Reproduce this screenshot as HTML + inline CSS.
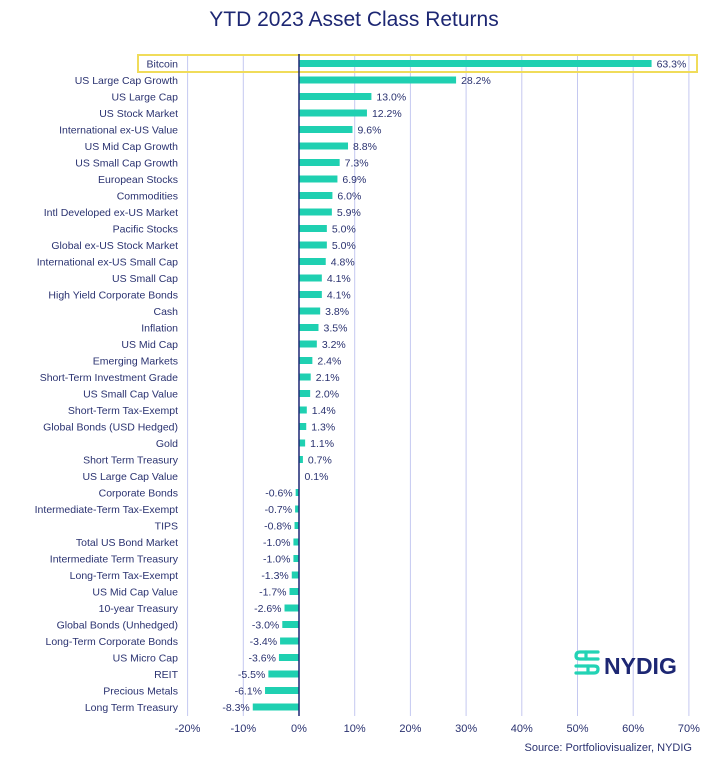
<!DOCTYPE html>
<html><head><meta charset="utf-8"><style>
body{margin:0;background:#fff;width:709px;height:764px;overflow:hidden;font-family:"Liberation Sans",sans-serif}
svg text{font-family:"Liberation Sans",sans-serif}
</style></head><body>
<svg id="chart" width="709" height="764">
<text x="354" y="26" text-anchor="middle" font-size="21" fill="#1d2773">YTD 2023 Asset Class Returns</text>
<g id="grid"></g><g id="bars"></g>
<rect x="138" y="55" width="559" height="17" fill="none" stroke="#f0dc5a" stroke-width="2"/>
<line x1="299" y1="54" x2="299" y2="716" stroke="#1d2773" stroke-width="1.5"/>
<g fill="none" stroke="#22d3b5" stroke-width="3.2" stroke-linecap="round">
<path d="M598 652 H580 q-4 0 -4 4 q0 3 4 3 H598"/>
<path d="M576 666 H594 q4 0 4 3 q0 4 -4 4 H576"/>
<path d="M586 652 V659 M588 666 V673"/>
</g>
<text x="604" y="674" font-size="23" font-weight="bold" fill="#1d2773">NYDIG</text>
<text x="692" y="751" text-anchor="end" font-size="11" fill="#2a3270">Source: Portfoliovisualizer, NYDIG</text>
</svg>
<script>
const categories=["Bitcoin","US Large Cap Growth","US Large Cap","US Stock Market","International ex-US Value","US Mid Cap Growth","US Small Cap Growth","European Stocks","Commodities","Intl Developed ex-US Market","Pacific Stocks","Global ex-US Stock Market","International ex-US Small Cap","US Small Cap","High Yield Corporate Bonds","Cash","Inflation","US Mid Cap","Emerging Markets","Short-Term Investment Grade","US Small Cap Value","Short-Term Tax-Exempt","Global Bonds (USD Hedged)","Gold","Short Term Treasury","US Large Cap Value","Corporate Bonds","Intermediate-Term Tax-Exempt","TIPS","Total US Bond Market","Intermediate Term Treasury","Long-Term Tax-Exempt","US Mid Cap Value","10-year Treasury","Global Bonds (Unhedged)","Long-Term Corporate Bonds","US Micro Cap","REIT","Precious Metals","Long Term Treasury"];
const values=[63.3,28.2,13.0,12.2,9.6,8.8,7.3,6.9,6.0,5.9,5.0,5.0,4.8,4.1,4.1,3.8,3.5,3.2,2.4,2.1,2.0,1.4,1.3,1.1,0.7,0.1,-0.6,-0.7,-0.8,-1.0,-1.0,-1.3,-1.7,-2.6,-3.0,-3.4,-3.6,-5.5,-6.1,-8.3];
const ticks=[-20,-10,0,10,20,30,40,50,60,70];
const NS="http://www.w3.org/2000/svg";
const x=v=>299+v*5.57;
const y=i=>63.5+i*16.5;
function mk(t,a,p){const e=document.createElementNS(NS,t);for(const k in a)e.setAttribute(k,a[k]);p.appendChild(e);return e;}
const grid=document.getElementById('grid'),bars=document.getElementById('bars');
ticks.forEach(t=>{
  if(t!==0){const l=mk('line',{x1:x(t),x2:x(t),y1:54,y2:716,stroke:'#c4c8f0','stroke-width':1},grid);
  
  }
  const tx=mk('text',{x:x(t),y:732,'text-anchor':'middle','font-size':11,fill:'#2a3270'},grid);
  tx.textContent=t+'%';
  
  
});
categories.forEach((c,i)=>{
  const v=values[i],yc=y(i);
  const lb=mk('text',{x:178,y:yc+4,'text-anchor':'end','font-size':10.5,fill:'#2a3270'},bars);
  lb.textContent=c;
  
  
  const r=mk('rect',{x:Math.min(x(0),x(v)),y:yc-3.5,width:Math.max(Math.abs(x(v)-x(0)),0.5),height:7,fill:'#1fd0b1'},bars);
  
  
  const vt=mk('text',{x:v>=0?x(v)+5:x(v)-3,y:yc+4,'text-anchor':v>=0?'start':'end','font-size':10.5,fill:'#2a3270'},bars);
  vt.textContent=v.toFixed(1)+'%';
  
  
});
</script>
</body></html>
